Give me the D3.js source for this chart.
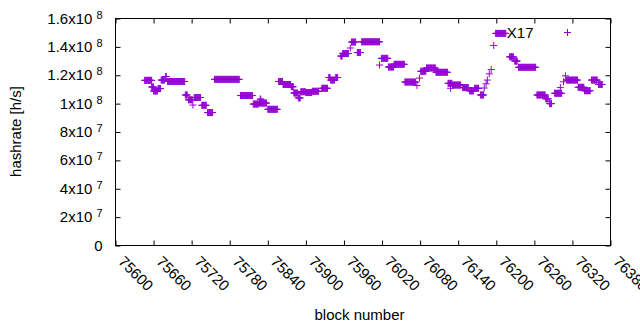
<!DOCTYPE html>
<html>
<head>
<meta charset="utf-8">
<script src="https://cdn.jsdelivr.net/npm/d3@7"></script>
<style>
  body { margin: 0; background: #fff; }
  text { font-family: "Liberation Sans", Arial, sans-serif; fill: #000; }
</style>
</head>
<body>
<div id="chart"></div>
<script>
// Chart data: runs of blocks that share the same hashrate
var runStart = [75646, 75657, 75660, 75667, 75672, 75679, 75682, 75710, 75715, 75722,
  75724, 75736, 75745, 75756, 75797, 75817, 75826, 75828, 75840, 75857,
  75864, 75877, 75881, 75888, 75892, 75900, 75910, 75925, 75936, 75939,
  75947, 75955, 75958, 75970, 75972, 75981, 75988, 76016, 76019, 76030,
  76039, 76056, 76075, 76079, 76081, 76090, 76105, 76124, 76128, 76131,
  76147, 76158, 76166, 76175, 76181, 76184, 76186, 76189, 76192, 76196,
  76199, 76221, 76229, 76235, 76264, 76278, 76284, 76292, 76301, 76306,
  76309, 76311, 76329, 76339, 76350, 76361];
var runEnd = [75657, 75660, 75666, 75671, 75677, 75680, 75709, 75713, 75721, 75722,
  75734, 75743, 75753, 75795, 75816, 75825, 75838, 75829, 75855, 75863,
  75876, 75880, 75887, 75891, 75899, 75909, 75920, 75934, 75938, 75945,
  75950, 75957, 75967, 75970, 75978, 75986, 76016, 76016, 76029, 76038,
  76055, 76073, 76075, 76079, 76089, 76104, 76123, 76130, 76128, 76144,
  76156, 76164, 76172, 76180, 76181, 76184, 76186, 76189, 76192, 76196,
  76215, 76227, 76233, 76262, 76277, 76282, 76287, 76303, 76301, 76306,
  76309, 76328, 76338, 76348, 76359, 76367];
var runValue = [1.164e8, 1.117e8, 1.089e8, 1.106e8, 1.166e8, 1.191e8, 1.156e8, 1.061e8, 1.027e8, 0.99e8,
  1.043e8, 0.988e8, 0.937e8, 1.171e8, 1.057e8, 0.997e8, 1.004e8, 1.032e8, 0.96e8, 1.156e8,
  1.135e8, 1.119e8, 1.075e8, 1.04e8, 1.084e8, 1.078e8, 1.087e8, 1.108e8, 1.184e8, 1.166e8,
  1.184e8, 1.335e8, 1.353e8, 1.392e8, 1.434e8, 1.36e8, 1.436e8, 1.272e8, 1.319e8, 1.258e8,
  1.277e8, 1.152e8, 1.128e8, 1.18e8, 1.228e8, 1.251e8, 1.221e8, 1.143e8, 1.108e8, 1.131e8,
  1.113e8, 1.09e8, 1.108e8, 1.061e8, 1.11e8, 1.14e8, 1.166e8, 1.21e8, 1.24e8, 1.41e8,
  1.495e8, 1.33e8, 1.30e8, 1.256e8, 1.061e8, 1.034e8, 1.0e8, 1.073e8, 1.113e8, 1.154e8,
  1.196e8, 1.166e8, 1.115e8, 1.091e8, 1.166e8, 1.135e8];

var seriesName = "X17";
var xTicks = [75600, 75660, 75720, 75780, 75840, 75900, 75960, 76020, 76080, 76140, 76200, 76260, 76320, 76380];
var yTicks = [0, 2e7, 4e7, 6e7, 8e7, 1e8, 1.2e8, 1.4e8, 1.6e8];

// SVG and margin parameters
var svgWidth = 640;
var svgHeight = 330;
var margin = { top: 18, right: 30, bottom: 85, left: 115 };
var width = svgWidth - margin.left - margin.right;
var height = svgHeight - margin.top - margin.bottom;
var color = "#9400d3";
var tickLen = 5;
var ps = 3.5; // half size of the "+" marks

var svg = d3.select("#chart")
  .append("svg")
  .attr("width", svgWidth)
  .attr("height", svgHeight);

var chartGroup = svg.append("g")
  .attr("transform", `translate(${margin.left + 0.5}, ${margin.top + 0.5})`);

var xScale = d3.scaleLinear().domain([75600, 76380]).range([0, width]);
var yScale = d3.scaleLinear().domain([0, 1.6e8]).range([height, 0]);

// expand every run into one point per block
var points = [];
runStart.forEach((s, i) => {
  d3.range(s, runEnd[i] + 1).forEach(b => points.push({ block: b, value: runValue[i] }));
});

// ticks on all four sides, pointing inward
var bottomAxis = d3.axisBottom(xScale).tickValues(xTicks).tickSizeInner(-tickLen).tickSizeOuter(0).tickFormat("");
var topAxis = d3.axisTop(xScale).tickValues(xTicks).tickSizeInner(-tickLen).tickSizeOuter(0).tickFormat("");
var leftAxis = d3.axisLeft(yScale).tickValues(yTicks).tickSizeInner(-tickLen).tickSizeOuter(0).tickFormat("");
var rightAxis = d3.axisRight(yScale).tickValues(yTicks).tickSizeInner(-tickLen).tickSizeOuter(0).tickFormat("");

chartGroup.append("g").attr("transform", `translate(0, ${height})`).call(bottomAxis);
chartGroup.append("g").call(topAxis);
chartGroup.append("g").call(leftAxis);
chartGroup.append("g").attr("transform", `translate(${width}, 0)`).call(rightAxis);
chartGroup.selectAll(".domain").remove();
chartGroup.selectAll(".tick line").attr("stroke", "#000");

chartGroup.append("rect")
  .attr("width", width)
  .attr("height", height)
  .attr("fill", "none")
  .attr("stroke", "#000");

// y tick labels like 1.2x10^8
yTicks.forEach(v => {
  var t = chartGroup.append("text")
    .attr("x", -13)
    .attr("y", yScale(v) + 5)
    .attr("text-anchor", "end")
    .style("font-size", "15px");
  if (v === 0) {
    t.text("0");
    return;
  }
  var e = Math.floor(Math.log10(v) + 1e-9);
  var m = +(v / Math.pow(10, e)).toFixed(1);
  t.append("tspan").text(`${m}x10`);
  t.append("tspan").attr("dx", 4).attr("dy", -5).style("font-size", "11px").text(e);
});

// x tick labels, rotated
xTicks.forEach(v => {
  chartGroup.append("text")
    .attr("transform", `translate(${xScale(v) + 2}, ${height + 17}) rotate(45)`)
    .style("font-size", "15px")
    .text(v);
});

// axis titles
svg.append("text")
  .attr("transform", `translate(21, ${margin.top + height / 2}) rotate(-90)`)
  .attr("text-anchor", "middle")
  .style("font-size", "15px")
  .text("hashrate [h/s]");

svg.append("text")
  .attr("x", margin.left + width / 2 - 3)
  .attr("y", 320)
  .attr("text-anchor", "middle")
  .style("font-size", "15px")
  .text("block number");

// data points as "+" marks
function plusPath(x, y) {
  return `M${x - ps},${y}H${x + ps}M${x},${y - ps}V${y + ps}`;
}

chartGroup.append("path")
  .attr("d", points.map(d => plusPath(xScale(d.block), yScale(d.value))).join(""))
  .attr("fill", "none")
  .attr("stroke", color)
  .attr("stroke-width", 1);

// legend
chartGroup.append("text")
  .attr("x", 533 - margin.left)
  .attr("y", 37 - margin.top)
  .attr("text-anchor", "end")
  .style("font-size", "15px")
  .text(seriesName);

chartGroup.append("path")
  .attr("d", plusPath(567 - margin.left, 32 - margin.top))
  .attr("fill", "none")
  .attr("stroke", color)
  .attr("stroke-width", 1);
</script>
</body>
</html>
